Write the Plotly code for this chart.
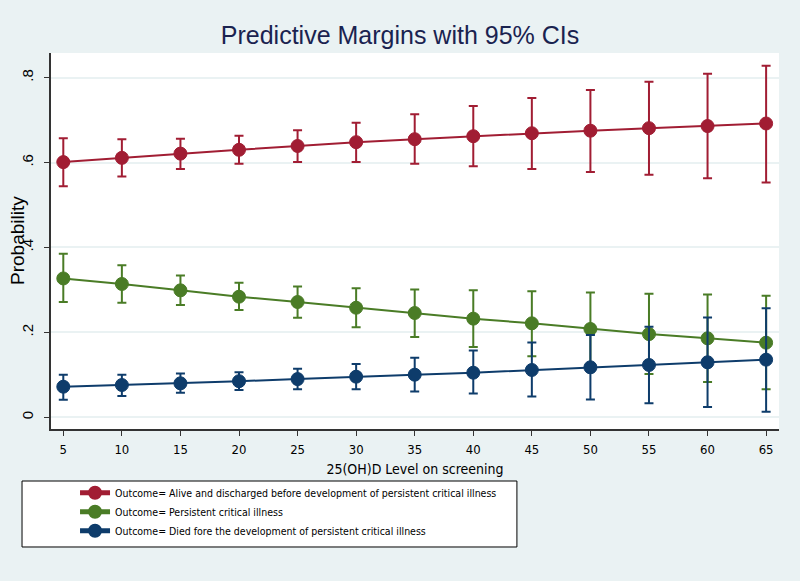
import plotly.graph_objects as go

x_levels = [5, 10, 15, 20, 25, 30, 35, 40, 45, 50, 55, 60, 65]

alive_mean = [0.601, 0.611, 0.621, 0.630, 0.639, 0.648, 0.655, 0.662, 0.669, 0.675, 0.681, 0.686, 0.692]
alive_lo = [0.544, 0.567, 0.585, 0.597, 0.601, 0.601, 0.597, 0.591, 0.585, 0.578, 0.571, 0.563, 0.553]
alive_hi = [0.657, 0.655, 0.656, 0.663, 0.676, 0.694, 0.714, 0.733, 0.752, 0.771, 0.790, 0.809, 0.828]

pci_mean = [0.327, 0.314, 0.299, 0.284, 0.2715, 0.258, 0.2456, 0.2323, 0.2213, 0.208, 0.196, 0.186, 0.1757]
pci_lo = [0.2715, 0.270, 0.2645, 0.2527, 0.2346, 0.212, 0.189, 0.1656, 0.1436, 0.121, 0.102, 0.0831, 0.066]
pci_hi = [0.385, 0.358, 0.334, 0.317, 0.308, 0.304, 0.301, 0.299, 0.297, 0.294, 0.291, 0.289, 0.286]

died_mean = [0.072, 0.076, 0.080, 0.085, 0.090, 0.0956, 0.1003, 0.105, 0.1114, 0.1177, 0.1232, 0.1295, 0.1357]
died_lo = [0.0415, 0.050, 0.058, 0.064, 0.066, 0.066, 0.061, 0.056, 0.049, 0.042, 0.033, 0.024, 0.013]
died_hi = [0.100, 0.100, 0.103, 0.106, 0.1145, 0.1255, 0.140, 0.157, 0.176, 0.194, 0.213, 0.235, 0.257]

series_names = [
    "Outcome= Alive and discharged before development of persistent critical illness",
    "Outcome= Persistent critical illness",
    "Outcome= Died fore the development of persistent critical illness",
]
y_tick_vals = [0, 0.2, 0.4, 0.6, 0.8]
y_tick_text = ["0", ".2", ".4", ".6", ".8"]

colors = ["#a11d33", "#4a7c26", "#0e3c6b"]
BG = "#eaf2f3"
NARROW = "DejaVu Sans Condensed, Liberation Sans Narrow, Arial Narrow, Liberation Sans, Arial, sans-serif"
SANS = "Liberation Sans, Arial, sans-serif"

fig = go.Figure()
for name, m, lo, hi, c in [
    (series_names[0], alive_mean, alive_lo, alive_hi, colors[0]),
    (series_names[1], pci_mean, pci_lo, pci_hi, colors[1]),
    (series_names[2], died_mean, died_lo, died_hi, colors[2]),
]:
    fig.add_trace(go.Scatter(
        x=x_levels, y=m, name=name, mode="lines+markers",
        line=dict(color=c, width=2),
        marker=dict(color=c, size=13, line=dict(color=c, width=1)),
        error_y=dict(type="data", symmetric=False,
                     array=[h - v for h, v in zip(hi, m)],
                     arrayminus=[v - l for v, l in zip(m, lo)],
                     color=c, thickness=2, width=4.5),
    ))

fig.add_shape(type="rect", xref="paper", yref="paper",
              x0=-0.0398, x1=0.64, y0=-0.3138, y1=-0.1383,
              line=dict(color="black", width=1), fillcolor="white", layer="below")

fig.add_annotation(text="Probability", xref="paper", yref="paper",
                   x=-0.0467, y=0.5, xanchor="center", yanchor="middle",
                   textangle=-90, showarrow=False,
                   font=dict(size=19, family=SANS, color="black"))

fig.update_layout(
    width=800, height=581,
    paper_bgcolor=BG, plot_bgcolor="white",
    margin=dict(l=51, r=21, t=53, b=152, autoexpand=False),
    title=dict(text="Predictive Margins with 95% CIs", x=0.5, xanchor="center",
               y=0.9395, yanchor="middle",
               font=dict(family=SANS, size=25, color="#1a2350")),
    showlegend=True,
    legend=dict(x=0.033, xanchor="left", y=-0.131, yanchor="top",
                bgcolor="rgba(0,0,0,0)", borderwidth=0,
                font=dict(family=NARROW, size=10.5, color="black"),
                tracegroupgap=0, itemsizing="constant"),
    font=dict(family=NARROW, color="black"),
)
fig.update_xaxes(range=[3.95, 66.1], tickvals=x_levels, ticks="outside", ticklen=5,
                 tickcolor="#333", showline=True, linecolor="#333", linewidth=1.5,
                 showgrid=False, zeroline=False, automargin=False, ticklabelstandoff=3,
                 tickfont=dict(size=13, family=NARROW),
                 title=dict(text="25(OH)D Level on screening", standoff=8,
                            font=dict(size=14, family=NARROW)))
fig.update_yaxes(range=[-0.0276, 0.858], tickvals=y_tick_vals, ticktext=y_tick_text,
                 tickangle=-90, ticks="outside", ticklen=5, tickcolor="#333",
                 showline=True, linecolor="#333", linewidth=1.5, ticklabelstandoff=5,
                 showgrid=True, gridcolor=BG, gridwidth=1.5, zeroline=False, automargin=False,
                 tickfont=dict(size=15, family=SANS))

fig.write_html("out.html", config={"displayModeBar": False})

# remove the browser's default 8px body margin so the figure sits at the page origin
with open("out.html", "r", encoding="utf-8") as f:
    html = f.read()
html = html.replace("<head>", "<head><style>html,body{margin:0;padding:0;}</style>", 1)
with open("out.html", "w", encoding="utf-8") as f:
    f.write(html)
